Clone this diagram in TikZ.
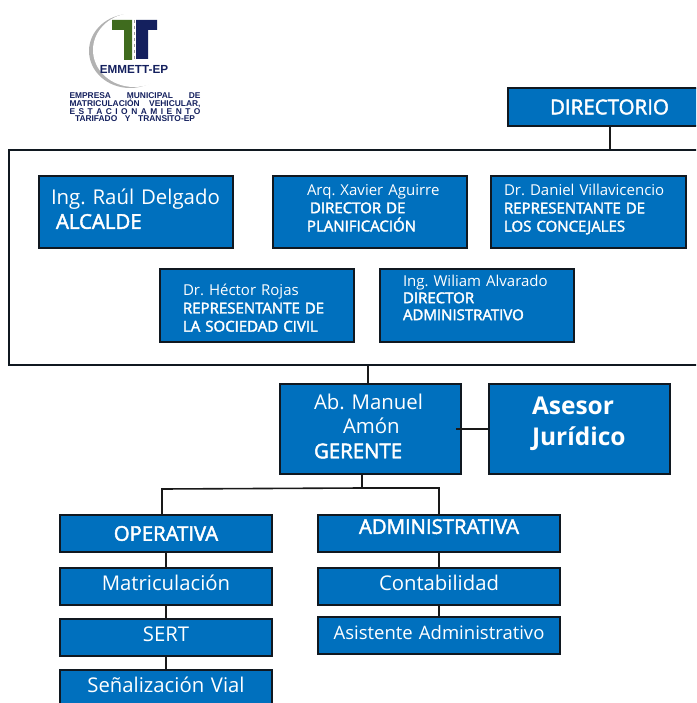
\documentclass[tikz,border=0pt]{standalone}
\usepackage{fontspec}
\setmainfont{Open Sans}
\newfontfamily\logofont{Liberation Sans}
\newfontface\mediofont[FakeBold=2.2]{Open Sans}
\frenchspacing
\usetikzlibrary{positioning}
\definecolor{azulcaja}{HTML}{0070BE}
\definecolor{bordecaja}{HTML}{101820}
\definecolor{azullogo}{HTML}{14205E}
\definecolor{verdelogo}{HTML}{3F6B1E}
\tikzset{
  caja/.style n args={2}{draw=bordecaja,line width=1.7pt,fill=azulcaja,text=white,
    minimum width=#1pt-1pt,minimum height=#2pt,text width=#1pt-7pt,inner xsep=3pt,inner ysep=0pt,align=left}, % cajas azules
  centrada/.style={align=center}, % texto al centro
  linea/.style={draw=black!90,line width=1.6pt}, % lineas del organigrama
  fchica/.style={font=\fontsize{15}{18.2}\selectfont},
  fgrande/.style={font=\fontsize{20.4}{24.5}\selectfont},
  funidad/.style={font=\fontsize{20.3}{22}\selectfont}
}
\begin{document}
\begin{tikzpicture}[x=1pt,y=-1pt]
\useasboundingbox (0,0) rectangle (696,703);
\clip (0,0) rectangle (696,703);

%Logo
\fill[black!30] (130,51) ellipse (41 and 37);
\fill[white] (134,50) ellipse (41 and 37);
\fill[verdelogo] (112,20) -- (132,20) -- (132,60) -- (124,60) -- (124,30) -- (112,30) -- cycle;
\fill[azullogo] (136,20) -- (157,20) -- (157,30) -- (148,30) -- (148,59) -- (136,59) -- cycle;
\draw[black!40,dashed,line width=.8pt] (134,20) -- (134,60);
\node[text=azullogo,font=\logofont\bfseries\fontsize{11.7}{12}\selectfont,inner sep=0pt] (emmett) at (134,69) {EMMETT-EP};
\node[text=azullogo,font=\logofont\bfseries\fontsize{8.4}{7}\selectfont,inner sep=0pt,align=center] (empresa) at (135,107)
  {\makebox[131pt][s]{EMPRESA MUNICIPAL DE}\\
   \makebox[131pt][s]{MATRICULACIÓN VEHICULAR,}\\
   \makebox[131pt][s]{E S T A C I O N A M I E N T O}\\
   \makebox[120pt][s]{TARIFADO Y TRANSITO-EP}};

%Directorio
\node[caja={205}{38}] (directorio) at (610,107) {\fontsize{20.5}{22}\selectfont\hspace*{39pt}{\mediofont DIRECTORIO}};
\node[draw=bordecaja,line width=1.6pt,minimum width=718pt,minimum height=215pt,inner sep=0pt] (marco) at (368,257.5) {};

%Miembros
\node[caja={195}{72},fgrande,text depth=31pt] (alcalde) at (136,212)
  {\hspace*{9pt}Ing. Raúl Delgado\\\hspace*{14pt}{\mediofont ALCALDE}};
\node[caja={195}{72},fchica,text depth=45pt] (xavier) at (370,212)
  {\hspace*{31pt}Arq. Xavier Aguirre\\\hspace*{34pt}{\mediofont DIRECTOR DE}\\\hspace*{31pt}{\mediofont PLANIFICACIÓN}};
\node[caja={196}{72},fchica,text depth=45pt] (daniel) at (588.5,212)
  {\hspace*{10pt}Dr. Daniel Villavicencio\\\hspace*{10pt}{\mediofont REPRESENTANTE DE}\\\hspace*{10pt}{\mediofont LOS CONCEJALES}};
\node[caja={195}{73},fchica,text depth=32pt] (hector) at (257,305.5)
  {\hspace*{20pt}Dr. Héctor Rojas\\\hspace*{20pt}{\mediofont REPRESENTANTE DE}\\\hspace*{20pt}{\mediofont LA SOCIEDAD CIVIL}};
\node[caja={195}{73},font=\fontsize{15}{17}\selectfont,text depth=50pt] (wiliam) at (477,305.5)
  {\hspace*{20pt}Ing. Wiliam Alvarado\\\hspace*{20pt}{\mediofont DIRECTOR}\\\hspace*{20pt}{\mediofont ADMINISTRATIVO}};

%Gerencia
\node[caja={182}{90},fgrande,text depth=55pt] (gerente) at (370.5,429)
  {\hspace*{31pt}Ab. Manuel\\\hspace*{60pt}Amón\\\hspace*{31pt}{\mediofont GERENTE}};
\node[caja={182}{90},font=\bfseries\fontsize{24.5}{31}\selectfont,text depth=46pt] (asesor) at (579.5,429)
  {\hspace*{40pt}Asesor\\\hspace*{40pt}Jurídico};

%Unidades
\node[caja={213}{37},centrada,funidad] (operativa) at (166,533.5) {\mediofont OPERATIVA};
\node[caja={213}{37},centrada,funidad,text depth=8pt] (matriculacion) at (166,586.5) {Matriculación};
\node[caja={213}{37},centrada,funidad,text depth=6pt] (sert) at (166,637.5) {SERT};
\node[caja={213}{37},centrada,funidad,text depth=8pt] (senalizacion) at (166,688.5) {Señalización Vial};
\node[caja={243}{37},centrada,funidad,text depth=14pt] (administrativa) at (439,533.5) {\mediofont ADMINISTRATIVA};
\node[caja={243}{37},centrada,funidad,text depth=8pt] (contabilidad) at (439,586.5) {Contabilidad};
\node[caja={243}{37},centrada,font=\fontsize{18.5}{20}\selectfont,text depth=7pt] (asistente) at (439,635.5) {Asistente Administrativo};

%Lineas
\coordinate (nudo) at (362,488);
\coordinate (izq) at (162,489);
\coordinate (enlace) at (456,429);
\draw[linea] (directorio.south) -- (directorio.south |- marco.north);
\draw[linea] (marco.south) -- (marco.south |- gerente.north);
\draw[linea] (enlace) -- (enlace -| asesor.west);
\draw[linea] (nudo |- gerente.south) -- (nudo);
\draw[linea] (nudo) -- (izq) -- (izq |- operativa.north);
\draw[linea] (nudo) -| (administrativa.north);
\draw[linea] (operativa) -- (matriculacion);
\draw[linea] (matriculacion) -- (sert);
\draw[linea] (sert) -- (senalizacion);
\draw[linea] (administrativa) -- (contabilidad);
\draw[linea] (contabilidad) -- (asistente);
\end{tikzpicture}
\end{document}
